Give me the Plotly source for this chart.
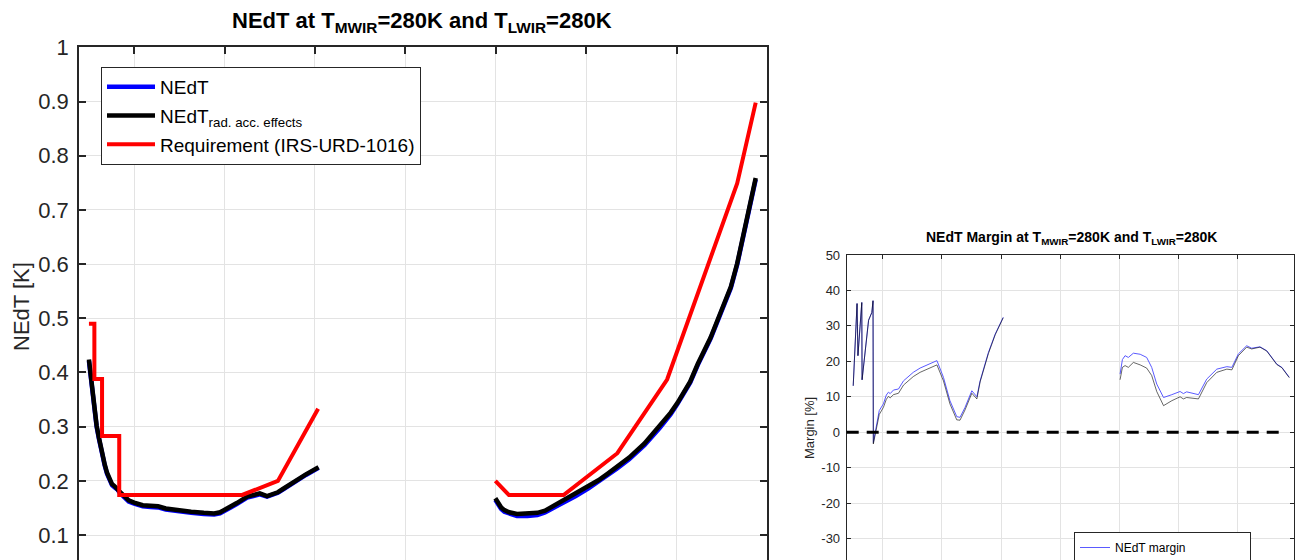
import plotly.graph_objects as go

# ---------------- NEdT spectra (wavenumber in cm^-1, NEdT in K) ----------------
lwir_wn = [700, 705, 710, 714, 717, 722, 726, 730, 735, 740, 746, 751, 757, 763, 768,
           772, 780, 788, 800, 819, 836, 853, 870, 885, 903, 926, 954, 977, 990, 1005,
           1027, 1050, 1061, 1078, 1094, 1108, 1118, 1129, 1157, 1180, 1208]
lwir_nedt = [0.421, 0.382, 0.343, 0.312, 0.300, 0.278, 0.260, 0.244, 0.228, 0.213, 0.200,
             0.192, 0.188, 0.184, 0.178, 0.175, 0.168, 0.162, 0.158, 0.153, 0.152, 0.151,
             0.147, 0.145, 0.143, 0.141, 0.139, 0.138, 0.140, 0.146, 0.157, 0.169, 0.172,
             0.175, 0.171, 0.174, 0.178, 0.184, 0.200, 0.211, 0.224]
lwir_nedt_rad = [0.424, 0.385, 0.345, 0.314, 0.302, 0.280, 0.262, 0.246, 0.230, 0.215, 0.202,
                 0.194, 0.190, 0.186, 0.180, 0.177, 0.170, 0.164, 0.160, 0.155, 0.154, 0.153,
                 0.149, 0.147, 0.145, 0.143, 0.141, 0.140, 0.142, 0.148, 0.159, 0.171, 0.174,
                 0.177, 0.172, 0.175, 0.179, 0.185, 0.201, 0.212, 0.225]

mwir_wn = [1599, 1605, 1612, 1619, 1630, 1647, 1670, 1692, 1709, 1726, 1750, 1777, 1805,
           1827, 1847, 1867, 1895, 1929, 1963, 1987, 2002, 2030, 2047, 2075, 2098, 2120,
           2134, 2149, 2162, 2175]
mwir_nedt = [0.165, 0.156, 0.148, 0.143, 0.139, 0.135, 0.135, 0.137, 0.142, 0.149, 0.160,
             0.172, 0.186, 0.198, 0.209, 0.222, 0.240, 0.266, 0.298, 0.323, 0.342, 0.381,
             0.414, 0.462, 0.510, 0.556, 0.599, 0.654, 0.703, 0.756]
mwir_nedt_rad = [0.168, 0.159, 0.151, 0.146, 0.142, 0.139, 0.139, 0.141, 0.145, 0.153, 0.164,
                 0.176, 0.189, 0.201, 0.213, 0.226, 0.243, 0.269, 0.301, 0.326, 0.344, 0.383,
                 0.416, 0.464, 0.512, 0.558, 0.601, 0.656, 0.706, 0.759]

# Requirement IRS-URD-1016
req_lwir_wn = [700, 712, 712, 729, 729, 767, 767, 1039, 1118, 1207]
req_lwir = [0.49, 0.49, 0.388, 0.388, 0.283, 0.283, 0.174, 0.174, 0.200, 0.333]
req_mwir_wn = [1599, 1629, 1750, 1869, 1979, 2134, 2175]
req_mwir = [0.200, 0.174, 0.174, 0.251, 0.387, 0.749, 0.898]

# ---------------- Margins (%) ----------------
mar_lwir_wn = [700, 713, 716, 729, 730, 746, 752, 763, 767, 768, 780, 788, 802, 812, 819,
               825, 836, 853, 870, 903, 926, 954, 977, 983, 1005, 1027, 1050, 1061, 1078,
               1101, 1118, 1129, 1157, 1180, 1207]
mar_lwir = [13.1, 36.3, 21.6, 36.6, 14.8, 28.6, 31.6, 33.8, 37.1, -2.9, 2.3, 6.1, 8.0,
            10.5, 11.3, 10.9, 11.9, 12.2, 14.5, 16.9, 18.1, 19.2, 20.0, 20.2, 15.5, 8.9,
            4.4, 4.2, 7.0, 11.7, 10.0, 14.5, 22.5, 27.7, 32.4]
mar_lwir_rad = [13.1, 36.3, 21.6, 36.6, 14.8, 28.6, 31.6, 33.8, 37.1, -3.3, 1.3, 5.0, 7.0,
                9.3, 10.1, 9.7, 10.6, 11.0, 13.3, 15.7, 16.9, 18.0, 18.8, 19.0, 14.5, 8.0,
                3.5, 3.4, 6.3, 11.0, 9.4, 14.2, 22.2, 27.5, 32.3]

mar_mwir_wn = [1602, 1610, 1619, 1630, 1647, 1670, 1692, 1709, 1726, 1749, 1777, 1805,
               1816, 1827, 1867, 1895, 1929, 1963, 1980, 2002, 2030, 2047, 2075, 2098,
               2132, 2149, 2174]
mar_mwir = [16.4, 20.5, 21.6, 21.1, 22.3, 22.0, 21.1, 18.3, 13.6, 9.8, 10.6, 11.5, 10.9,
            11.4, 10.6, 15.0, 17.8, 18.5, 18.3, 22.1, 24.4, 23.7, 24.1, 23.0, 19.2, 18.3,
            15.5]
mar_mwir_rad = [14.8, 18.3, 18.8, 18.3, 19.7, 19.0, 18.1, 16.0, 11.5, 7.5, 8.9, 10.0, 9.4,
                9.8, 9.4, 14.0, 16.9, 17.8, 17.6, 21.6, 24.0, 23.5, 24.0, 22.9, 19.1, 18.2,
                15.4]

# ---------------- Axis ticks ----------------
wn_ticks = [800, 1000, 1200, 1400, 1600, 1800, 2000]
nedt_ticks = [0.1, 0.2, 0.3, 0.4, 0.5, 0.6, 0.7, 0.8, 0.9, 1.0]
nedt_ticktext = ["0.1", "0.2", "0.3", "0.4", "0.5", "0.6", "0.7", "0.8", "0.9", "1"]
margin_ticks = [-30, -20, -10, 0, 10, 20, 30, 40, 50]
margin_ticktext = ["-30", "-20", "-10", "0", "10", "20", "30", "40", "50"]

FONT = "Liberation Sans, Arial, Helvetica, sans-serif"
W, H = 1297, 560
AX = "#262626"
GRID = "#e3e3e3"


def gap(a, b):
    return list(a) + [None] + list(b)


fig = go.Figure()

# Left panel: NEdT
fig.add_trace(go.Scatter(x=gap(lwir_wn, mwir_wn), y=gap(lwir_nedt, mwir_nedt),
                         mode="lines", name="NEdT", line=dict(color="#0000ff", width=4.5),
                         xaxis="x", yaxis="y", legend="legend", legendgroup="a"))
fig.add_trace(go.Scatter(x=gap(lwir_wn, mwir_wn), y=gap(lwir_nedt_rad, mwir_nedt_rad),
                         mode="lines", name="NEdT<sub>rad. acc. effects</sub>",
                         line=dict(color="#000000", width=4.5),
                         xaxis="x", yaxis="y", legend="legend", legendgroup="b"))
fig.add_trace(go.Scatter(x=gap(req_lwir_wn, req_mwir_wn), y=gap(req_lwir, req_mwir),
                         mode="lines", name="Requirement (IRS-URD-1016)",
                         line=dict(color="#ff0000", width=4),
                         xaxis="x", yaxis="y", legend="legend", legendgroup="c"))

# Right panel: margin
fig.add_trace(go.Scatter(x=gap(mar_lwir_wn, mar_mwir_wn), y=gap(mar_lwir, mar_mwir),
                         mode="lines", name="NEdT margin",
                         line=dict(color="#5a5aff", width=1),
                         xaxis="x2", yaxis="y2", legend="legend2"))
fig.add_trace(go.Scatter(x=gap(mar_lwir_wn, mar_mwir_wn), y=gap(mar_lwir_rad, mar_mwir_rad),
                         mode="lines", name="NEdT<sub>rad. acc. effects</sub> margin",
                         line=dict(color="rgba(0,0,0,0.6)", width=1),
                         xaxis="x2", yaxis="y2", legend="legend2"))

# zero-margin reference
fig.add_shape(type="line", xref="x2 domain", yref="y2", x0=0, x1=0.975, y0=0, y1=0,
              line=dict(color="black", width=3, dash="12px,8px"))

common_x = dict(side="top", showline=True, linecolor=AX, mirror=False, ticks="inside",
                showticklabels=False, tickvals=wn_ticks, showgrid=True, gridcolor=GRID,
                gridwidth=1, zeroline=False, tickcolor=AX)

fig.update_layout(
    width=W, height=H,
    margin=dict(l=0, r=0, t=0, b=0, autoexpand=False),
    paper_bgcolor="white", plot_bgcolor="white",
    font=dict(family=FONT, color=AX),
    xaxis=dict(domain=[79 / W, 767 / W], range=[678, 2200], anchor="y",
               ticklen=7, linewidth=1.5, tickwidth=1.5, **common_x),
    yaxis=dict(domain=[0, 1 - 47.3 / H], range=[0.054, 1.0], anchor="x",
               showline=True, linecolor=AX, linewidth=1.5, mirror="ticks",
               ticks="inside", ticklen=7, tickwidth=1.5, tickcolor=AX,
               tickvals=nedt_ticks, ticktext=nedt_ticktext,
               tickfont=dict(size=22, color=AX, family=FONT), ticklabelstandoff=4,
               showgrid=True, gridcolor=GRID, zeroline=False),
    xaxis2=dict(domain=[846.7 / W, 1294 / W], range=[678, 2190], anchor="y2",
                ticklen=4, linewidth=1, tickwidth=1, **common_x),
    yaxis2=dict(domain=[0, (H - 255) / H], range=[-36.04, 50], anchor="x2",
                showline=True, linecolor=AX, linewidth=1, mirror="ticks",
                ticks="inside", ticklen=4, tickwidth=1, tickcolor=AX,
                tickvals=margin_ticks, ticktext=margin_ticktext,
                tickfont=dict(size=13, color=AX, family=FONT), ticklabelstandoff=3,
                showgrid=True, gridcolor=GRID, zeroline=False),
    legend=dict(x=101 / W, y=1 - 67 / H, xanchor="left", yanchor="top",
                bgcolor="white", bordercolor=AX, borderwidth=1,
                font=dict(size=19, color="#000000", family=FONT),
                itemwidth=48, traceorder="grouped", tracegroupgap=1),
    legend2=dict(x=1074 / W, y=(H - 532) / H, xanchor="left", yanchor="top",
                 bgcolor="white", bordercolor=AX, borderwidth=1,
                 font=dict(size=12, color="#000000", family=FONT),
                 itemwidth=30, tracegroupgap=0),
    showlegend=True,
)

fig.add_annotation(text="<b>NEdT at T<sub>MWIR</sub>=280K and T<sub>LWIR</sub>=280K</b>",
                   xref="paper", yref="paper", x=422 / W, y=1 - 22 / H,
                   xanchor="center", yanchor="middle", showarrow=False,
                   font=dict(size=22, color="#000000", family=FONT))
fig.add_annotation(text="<b>NEdT Margin at T<sub>MWIR</sub>=280K and T<sub>LWIR</sub>=280K</b>",
                   xref="paper", yref="paper", x=1071.5 / W, y=1 - 238 / H,
                   xanchor="center", yanchor="middle", showarrow=False,
                   font=dict(size=14, color="#000000", family=FONT))
fig.add_annotation(text="NEdT [K]", textangle=-90, xref="paper", yref="paper",
                   x=21 / W, y=1 - 307 / H, xanchor="center", yanchor="middle",
                   showarrow=False, font=dict(size=22, color=AX, family=FONT))
fig.add_annotation(text="Margin [%]", textangle=-90, xref="paper", yref="paper",
                   x=809 / W, y=1 - 428 / H, xanchor="center", yanchor="middle",
                   showarrow=False, font=dict(size=13, color=AX, family=FONT))

fig.write_html("out.html")
